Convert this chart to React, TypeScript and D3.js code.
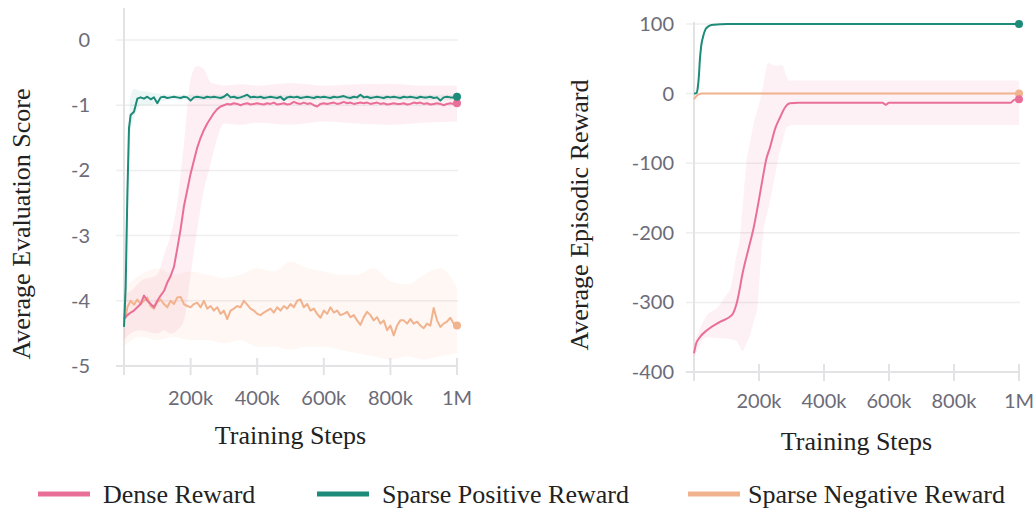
import React from "react";
import * as d3 from "d3";

const PINK = "#ea6f98";
const GREEN = "#1d8b79";
const ORANGE = "#f1b28e";

const seriesNames = ["Dense Reward", "Sparse Positive Reward", "Sparse Negative Reward"];
const xTickValues = [200000, 400000, 600000, 800000, 1000000];
const xTickLabels = ["200k", "400k", "600k", "800k", "1M"];
const leftYTicks = [0, -1, -2, -3, -4, -5];
const rightYTicks = [100, 0, -100, -200, -300, -400];

// left panel, steps in thousands
const leftSteps = [
  0, 5, 10, 15, 20,
  30, 40, 50, 60, 70, 80, 90, 100,
  110, 120, 130, 140, 150, 160, 170, 180, 190, 200,
  210, 220, 230, 240, 250, 260, 270, 280, 290, 300,
  310, 320, 330, 340, 350, 360, 370, 380, 390, 400,
  410, 420, 430, 440, 450, 460, 470, 480, 490, 500,
  510, 520, 530, 540, 550, 560, 570, 580, 590, 600,
  610, 620, 630, 640, 650, 660, 670, 680, 690, 700,
  710, 720, 730, 740, 750, 760, 770, 780, 790, 800,
  810, 820, 830, 840, 850, 860, 870, 880, 890, 900,
  910, 920, 930, 940, 950, 960, 970, 980, 990, 1000,
];
const leftDense = [
  -4.28, -4.25, -4.22, -4.2, -4.18,
  -4.15, -4.1, -4.05, -3.92, -4.0, -4.05, -4.1, -4.0,
  -3.92, -3.85, -3.72, -3.62, -3.48, -3.2, -2.9, -2.55, -2.3, -2.05,
  -1.85, -1.65, -1.5, -1.38, -1.28, -1.2, -1.12, -1.06, -1.02, -1.0,
  -0.98, -0.99, -0.97, -0.98, -1.0, -0.98, -0.97, -0.99, -0.98, -0.97,
  -0.98, -0.99, -0.97, -0.98, -0.96, -0.99, -0.98, -0.97, -0.99, -0.98,
  -0.95, -0.97, -0.98, -0.96, -0.98, -0.97, -1.0, -1.02, -0.98, -0.97,
  -0.98, -0.97, -0.96, -0.98, -0.97, -0.95, -0.97, -0.96, -0.98, -0.97,
  -0.96, -0.97, -0.96, -0.98, -0.97, -0.96, -0.98, -0.97, -0.99, -0.98,
  -0.97, -0.98, -0.98, -0.97, -0.99, -0.98, -0.96, -0.97, -0.96, -0.98,
  -0.97, -0.99, -0.98, -0.97, -0.98, -1.0, -0.98, -0.97, -0.98, -0.97,
];
const leftPositive = [
  -4.4, -3.8, -2.4, -1.35, -1.15,
  -1.1, -0.9, -0.88, -0.9, -0.87, -0.91, -0.88, -0.97,
  -0.88, -0.87, -0.89, -0.88, -0.87, -0.88, -0.89, -0.87, -0.88, -0.93,
  -0.88, -0.87, -0.88, -0.89, -0.87, -0.88, -0.87, -0.88, -0.89, -0.87,
  -0.83, -0.88, -0.87, -0.89, -0.88, -0.86, -0.84, -0.88, -0.87, -0.88,
  -0.87, -0.89, -0.88, -0.87, -0.88, -0.89, -0.87, -0.92, -0.88, -0.87,
  -0.88, -0.87, -0.89, -0.88, -0.87, -0.88, -0.89, -0.87, -0.88, -0.87,
  -0.88, -0.89, -0.87, -0.88, -0.87, -0.86, -0.88, -0.89, -0.87, -0.88,
  -0.84, -0.88, -0.87, -0.89, -0.88, -0.87, -0.88, -0.89, -0.87, -0.88,
  -0.87, -0.88, -0.89, -0.87, -0.88, -0.87, -0.88, -0.89, -0.87, -0.88,
  -0.88, -0.87, -0.89, -0.88, -0.93, -0.88, -0.87, -0.88, -0.88, -0.87,
];
const leftNegative = [
  -4.2, -4.25, -4.1, -4.05, -4.0,
  -4.06, -3.98, -4.05, -4.0, -3.95, -4.08, -4.12, -4.02,
  -3.98, -4.05, -4.1, -4.0, -4.05, -3.95, -3.94, -4.05, -4.08, -4.1,
  -4.05, -4.03, -4.1, -4.0, -4.12, -4.08, -4.15, -4.1, -4.2, -4.15,
  -4.28, -4.15, -4.12, -4.08, -4.1, -4.0, -4.06, -4.12, -4.15, -4.2,
  -4.22, -4.18, -4.15, -4.12, -4.18, -4.1, -4.15, -4.08, -4.12, -4.05,
  -4.1, -4.0, -3.98, -4.1, -4.05, -4.15, -4.12, -4.2, -4.26, -4.15,
  -4.2, -4.1, -4.18, -4.15, -4.22, -4.2, -4.17, -4.25, -4.22, -4.3,
  -4.37, -4.25, -4.17, -4.22, -4.3, -4.25, -4.35, -4.3, -4.45, -4.38,
  -4.53, -4.38, -4.3, -4.3, -4.35, -4.28, -4.35, -4.32, -4.38, -4.42,
  -4.35, -4.38, -4.11, -4.3, -4.4, -4.35, -4.32, -4.26, -4.35, -4.38,
];

// left panel shaded ranges
const leftDenseBandSteps = [0, 20, 50, 100, 120, 140, 160, 180, 200, 220, 240, 260, 280, 300, 350, 400, 500, 600, 700, 800, 900, 1000];
const leftDenseUpper = [-3.9, -3.85, -3.7, -3.6, -3.3, -3.0, -2.5, -1.6, -0.6, -0.4, -0.45, -0.65, -0.68, -0.7, -0.68, -0.7, -0.66, -0.7, -0.68, -0.67, -0.7, -0.7];
const leftDenseLower = [-4.6, -4.5, -4.45, -4.5, -4.45, -4.5, -4.45, -4.3, -3.6, -2.9, -2.3, -1.9, -1.5, -1.28, -1.3, -1.27, -1.3, -1.25, -1.28, -1.3, -1.27, -1.25];
const leftPositiveBandSteps = [0, 10, 20, 30, 50, 80, 100, 150, 200, 400, 600, 800, 1000];
const leftPositiveUpper = [-4.2, -2.0, -0.85, -0.75, -0.78, -0.8, -0.82, -0.84, -0.84, -0.84, -0.84, -0.84, -0.84];
const leftPositiveLower = [-4.6, -3.0, -1.4, -1.2, -1.0, -1.0, -0.95, -0.92, -0.92, -0.92, -0.92, -0.92, -0.92];
const leftNegativeBandSteps = [0, 50, 100, 150, 200, 250, 300, 350, 400, 450, 500, 550, 600, 650, 700, 750, 800, 850, 900, 950, 1000];
const leftNegativeUpper = [-3.8, -3.6, -3.5, -3.6, -3.55, -3.6, -3.65, -3.6, -3.5, -3.55, -3.4, -3.5, -3.55, -3.6, -3.6, -3.5, -3.7, -3.75, -3.6, -3.5, -3.8];
const leftNegativeLower = [-4.7, -4.55, -4.6, -4.55, -4.6, -4.6, -4.65, -4.6, -4.7, -4.7, -4.75, -4.7, -4.7, -4.75, -4.8, -4.85, -4.9, -4.85, -4.9, -4.85, -4.8];

// right panel
const rightDenseSteps = [0, 6, 18, 40, 80, 117, 132, 151, 172, 182, 195, 212, 222, 234, 250, 265, 280, 295, 320, 580, 590, 600, 975, 985, 1000];
const rightDense = [-373, -360, -350, -340, -328, -318, -300, -255, -215, -196, -165, -120, -95, -77, -50, -34, -20, -14, -13, -13, -16, -13, -13, -9, -8];
const rightPositiveSteps = [0, 5, 8, 12, 15, 18, 22, 28, 35, 40, 50, 60, 80, 100, 1000];
const rightPositive = [0, 0.3, 1, 10, 25, 48, 68, 82, 92, 95, 98, 99, 99.5, 100, 100];
const rightNegativeSteps = [0, 5, 10, 15, 25, 1000];
const rightNegative = [-8, -5, -2.5, -1, 0, 0];
const rightDenseUpperSteps = [0, 40, 71, 111, 142, 163, 185, 203, 228, 250, 270, 290, 1000];
const rightDenseUpper = [-360, -318, -308, -282, -204, -92, -40, -10, 44, 40, 41, 19, 19];
const rightDenseLowerSteps = [0, 40, 100, 130, 149, 170, 194, 212, 234, 265, 286, 300, 1000];
const rightDenseLower = [-380, -350, -352, -355, -370, -350, -311, -204, -154, -81, -48, -45, -45];

const tickFont = "Lato, 'Open Sans', sans-serif";
const serif = "'Liberation Serif', 'Times New Roman', serif";
const tickColor = "#6c6b78";
const axisColor = "#e3e3e6";
const gridColor = "#eeeeef";

const zip = (steps, vals) => steps.map((s, i) => [s * 1000, vals[i]]);

function Panel({ cfg }) {
  const x = d3.scaleLinear().domain([0, 1e6]).range([cfg.x0, cfg.x1]);
  const y = d3.scaleLinear().domain(cfg.yDomain).range([cfg.yBottom, cfg.yTop]);
  const line = d3.line().x((d) => x(d[0])).y((d) => y(d[1])).curve(cfg.curve);
  const area = (up, lo) =>
    d3
      .area()
      .x((d) => x(d[0]))
      .y0((d) => y(lo(d[0])))
      .y1((d) => y(up(d[0])))
      .curve(d3.curveMonotoneX);

  return (
    <g>
      {cfg.yTicks.map((t) => (
        <g key={t}>
          <line x1={cfg.x0 - 8} x2={cfg.x1 + 1} y1={y(t)} y2={y(t)} stroke={t === cfg.yDomain[0] ? axisColor : gridColor} strokeWidth={t === cfg.yDomain[0] ? 2 : 1.5} />
          <text x={cfg.labelX} y={y(t) - 1} textAnchor="end" dominantBaseline="central" fontFamily={tickFont} fontSize={20} fill={tickColor}>
            {t}
          </text>
        </g>
      ))}
      <line x1={cfg.x0} x2={cfg.x0} y1={cfg.axisTop} y2={cfg.yBottom + 9} stroke={axisColor} strokeWidth={2} />
      {xTickValues.map((v, i) => (
        <g key={v}>
          <line x1={x(v)} x2={x(v)} y1={cfg.yBottom - 8} y2={cfg.yBottom + 9} stroke={axisColor} strokeWidth={2} />
          <text x={x(v)} y={cfg.yBottom + cfg.xLabelDy} textAnchor="middle" dominantBaseline="central" fontFamily={tickFont} fontSize={20} fill={tickColor}>
            {xTickLabels[i]}
          </text>
        </g>
      ))}
      {cfg.bands.map((b, i) => {
        const upInterp = d3.scaleLinear().domain(b.upSteps.map((s) => s * 1000)).range(b.up).clamp(true);
        const loInterp = d3.scaleLinear().domain(b.loSteps.map((s) => s * 1000)).range(b.lo).clamp(true);
        const xs = Array.from(new Set([...b.upSteps, ...b.loSteps])).sort((a, c) => a - c).map((s) => [s * 1000]);
        return <path key={i} d={area(upInterp, loInterp)(xs)} fill={b.color} />;
      })}
      {cfg.series.map((s, i) => {
        const pts = zip(s.steps, s.values);
        const last = pts[pts.length - 1];
        return (
          <g key={i}>
            <path d={line(pts)} fill="none" stroke={s.color} strokeWidth={2} strokeLinejoin="round" />
            <circle cx={x(last[0])} cy={y(last[1])} r={4} fill={s.color} />
          </g>
        );
      })}
      <text x={(cfg.x0 + cfg.x1) / 2} y={cfg.xTitleY} textAnchor="middle" fontFamily={serif} fontSize={26} fill="#222">
        Training Steps
      </text>
      <text transform={`translate(${cfg.yTitleX},${cfg.yTitleCy}) rotate(-90)`} textAnchor="middle" fontFamily={serif} fontSize={26} fill="#222">
        {cfg.yTitle}
      </text>
    </g>
  );
}

export default function App() {
  const left = {
    x0: 124, x1: 457, yTop: 40, yBottom: 366, yDomain: [-5, 0], yTicks: leftYTicks,
    labelX: 90, axisTop: 8, xLabelDy: 31, xTitleY: 444, yTitleX: 30, yTitleCy: 224,
    yTitle: "Average Evaluation Score", curve: d3.curveLinear,
    bands: [
      { upSteps: leftNegativeBandSteps, up: leftNegativeUpper, loSteps: leftNegativeBandSteps, lo: leftNegativeLower, color: "rgba(246,190,160,0.12)" },
      { upSteps: leftDenseBandSteps, up: leftDenseUpper, loSteps: leftDenseBandSteps, lo: leftDenseLower, color: "rgba(240,130,165,0.13)" },
      { upSteps: leftPositiveBandSteps, up: leftPositiveUpper, loSteps: leftPositiveBandSteps, lo: leftPositiveLower, color: "rgba(40,150,130,0.09)" },
    ],
    series: [
      { steps: leftSteps, values: leftNegative, color: ORANGE },
      { steps: leftSteps, values: leftDense, color: PINK },
      { steps: leftSteps, values: leftPositive, color: GREEN },
    ],
  };
  const right = {
    x0: 694, x1: 1019, yTop: 24, yBottom: 372, yDomain: [-400, 100], yTicks: rightYTicks,
    labelX: 674, axisTop: 22, xLabelDy: 28, xTitleY: 450, yTitleX: 588, yTitleCy: 215,
    yTitle: "Average Episodic Reward", curve: d3.curveMonotoneX,
    bands: [
      { upSteps: rightDenseUpperSteps, up: rightDenseUpper, loSteps: rightDenseLowerSteps, lo: rightDenseLower, color: "rgba(240,130,165,0.11)" },
    ],
    series: [
      { steps: rightNegativeSteps, values: rightNegative, color: ORANGE },
      { steps: rightDenseSteps, values: rightDense, color: PINK },
      { steps: rightPositiveSteps, values: rightPositive, color: GREEN },
    ],
  };
  const legendColors = [PINK, GREEN, ORANGE];
  const legendSwatchX = [38, 317, 688];
  const legendTextX = [103, 382, 748];

  return (
    <svg width={1036} height={508} style={{ position: "absolute", left: 0, top: 0, background: "#fff" }}>
      <Panel cfg={left} />
      <Panel cfg={right} />
      {seriesNames.map((n, i) => (
        <g key={n}>
          <line x1={legendSwatchX[i]} x2={legendSwatchX[i] + 52} y1={494} y2={494} stroke={legendColors[i]} strokeWidth={5} />
          <text x={legendTextX[i]} y={503} fontFamily={serif} fontSize={26} fill="#222">
            {n}
          </text>
        </g>
      ))}
    </svg>
  );
}
